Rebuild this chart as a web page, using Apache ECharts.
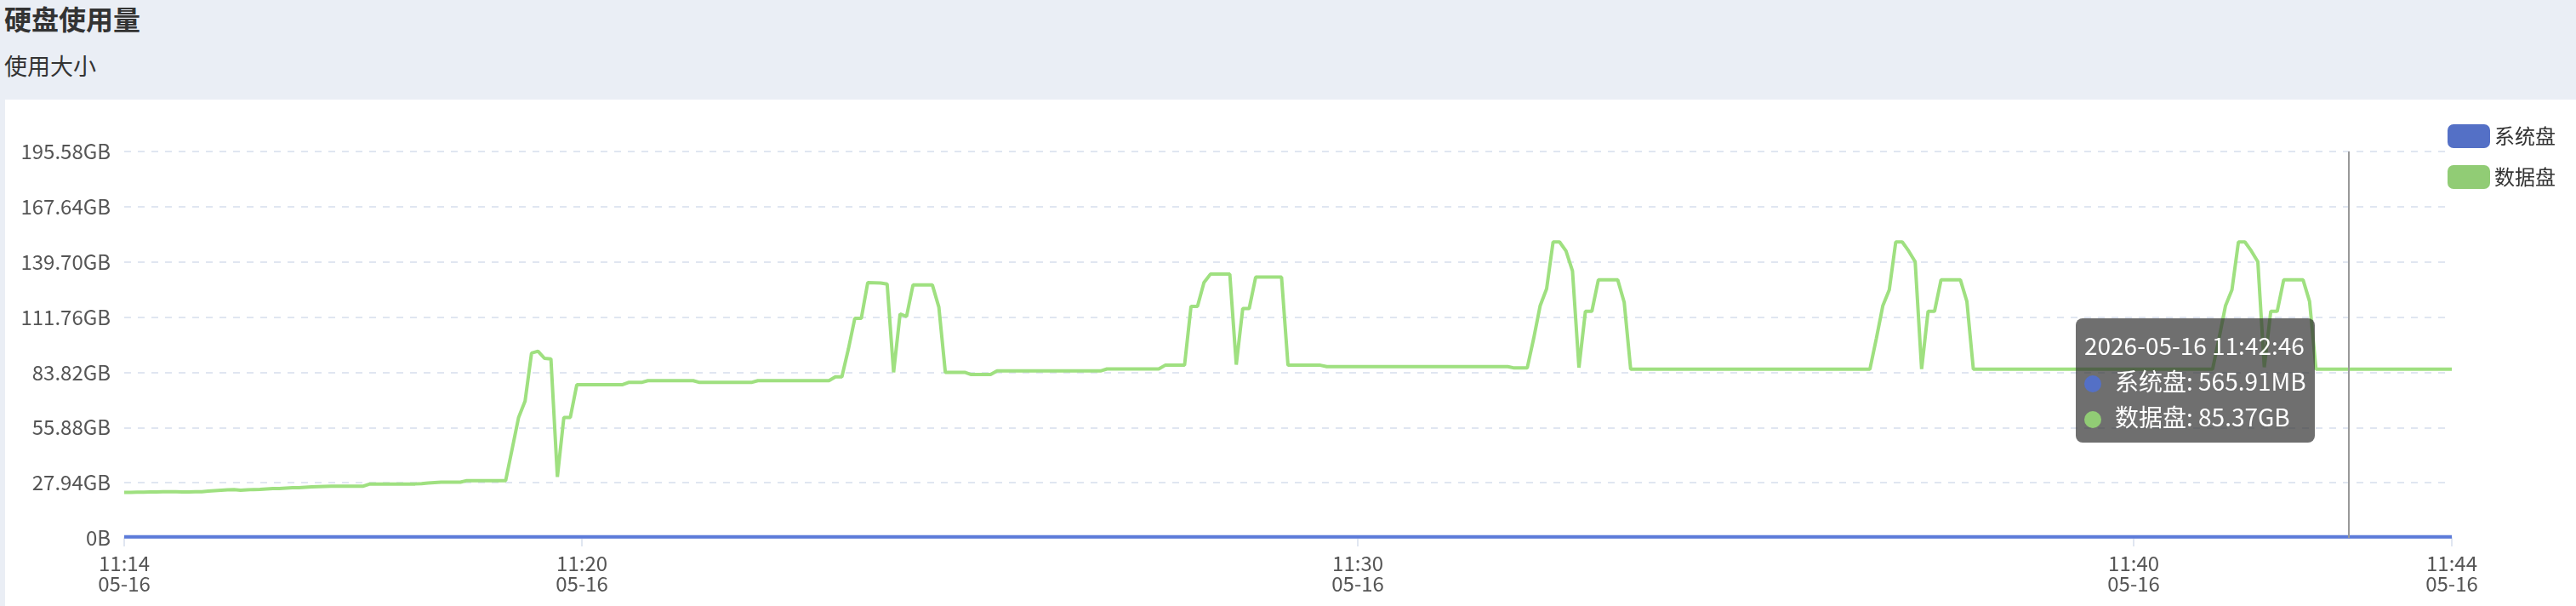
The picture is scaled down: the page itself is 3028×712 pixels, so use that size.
<!DOCTYPE html>
<html><head><meta charset="utf-8">
<script src="https://cdn.jsdelivr.net/npm/echarts@6/dist/echarts.min.js"></script>
<style>
html,body{margin:0;padding:0;width:3028px;height:712px;overflow:hidden;background:#eaeef5;font-family:"Noto Sans CJK SC","Noto Sans",sans-serif;}
#title{position:absolute;left:5px;top:0;height:42px;line-height:42px;font-size:32px;font-weight:bold;color:#333;}
#sub{position:absolute;left:5px;top:56px;height:42px;line-height:42px;font-size:27px;color:#333;}
#panel{position:absolute;left:6px;top:117px;width:3022px;height:595px;background:#fff;}
#chart{width:3022px;height:595px;}
</style></head>
<body>
<div id="title">硬盘使用量</div>
<div id="sub">使用大小</div>
<div id="panel"><div id="chart"></div></div>
<script>
const FONT = '"Noto Sans CJK SC","Noto Sans",sans-serif';
const START_TIME = '2026-05-16 11:14:06';
const STEP_SECONDS = 5;
const seriesNames = ['系统盘', '数据盘'];
const Y_MAX_BYTES = 2.1e11;
const Y_STEP_BYTES = 3e10;
const TOOLTIP_INDEX = 344;

// 系统盘 (MB)
const sysDiskMB = [
565.91,565.91,565.91,565.91,565.91,565.91,565.91,565.91,565.91,565.91,
565.91,565.91,565.91,565.91,565.91,565.91,565.91,565.91,565.91,565.91,
565.91,565.91,565.91,565.91,565.91,565.91,565.91,565.91,565.91,565.91,
565.91,565.91,565.91,565.91,565.91,565.91,565.91,565.91,565.91,565.91,
565.91,565.91,565.91,565.91,565.91,565.91,565.91,565.91,565.91,565.91,
565.91,565.91,565.91,565.91,565.91,565.91,565.91,565.91,565.91,565.91,
565.91,565.91,565.91,565.91,565.91,565.91,565.91,565.91,565.91,565.91,
565.91,565.91,565.91,565.91,565.91,565.91,565.91,565.91,565.91,565.91,
565.91,565.91,565.91,565.91,565.91,565.91,565.91,565.91,565.91,565.91,
565.91,565.91,565.91,565.91,565.91,565.91,565.91,565.91,565.91,565.91,
565.91,565.91,565.91,565.91,565.91,565.91,565.91,565.91,565.91,565.91,
565.91,565.91,565.91,565.91,565.91,565.91,565.91,565.91,565.91,565.91,
565.91,565.91,565.91,565.91,565.91,565.91,565.91,565.91,565.91,565.91,
565.91,565.91,565.91,565.91,565.91,565.91,565.91,565.91,565.91,565.91,
565.91,565.91,565.91,565.91,565.91,565.91,565.91,565.91,565.91,565.91,
565.91,565.91,565.91,565.91,565.91,565.91,565.91,565.91,565.91,565.91,
565.91,565.91,565.91,565.91,565.91,565.91,565.91,565.91,565.91,565.91,
565.91,565.91,565.91,565.91,565.91,565.91,565.91,565.91,565.91,565.91,
565.91,565.91,565.91,565.91,565.91,565.91,565.91,565.91,565.91,565.91,
565.91,565.91,565.91,565.91,565.91,565.91,565.91,565.91,565.91,565.91,
565.91,565.91,565.91,565.91,565.91,565.91,565.91,565.91,565.91,565.91,
565.91,565.91,565.91,565.91,565.91,565.91,565.91,565.91,565.91,565.91,
565.91,565.91,565.91,565.91,565.91,565.91,565.91,565.91,565.91,565.91,
565.91,565.91,565.91,565.91,565.91,565.91,565.91,565.91,565.91,565.91,
565.91,565.91,565.91,565.91,565.91,565.91,565.91,565.91,565.91,565.91,
565.91,565.91,565.91,565.91,565.91,565.91,565.91,565.91,565.91,565.91,
565.91,565.91,565.91,565.91,565.91,565.91,565.91,565.91,565.91,565.91,
565.91,565.91,565.91,565.91,565.91,565.91,565.91,565.91,565.91,565.91,
565.91,565.91,565.91,565.91,565.91,565.91,565.91,565.91,565.91,565.91,
565.91,565.91,565.91,565.91,565.91,565.91,565.91,565.91,565.91,565.91,
565.91,565.91,565.91,565.91,565.91,565.91,565.91,565.91,565.91,565.91,
565.91,565.91,565.91,565.91,565.91,565.91,565.91,565.91,565.91,565.91,
565.91,565.91,565.91,565.91,565.91,565.91,565.91,565.91,565.91,565.91,
565.91,565.91,565.91,565.91,565.91,565.91,565.91,565.91,565.91,565.91,
565.91,565.91,565.91,565.91,565.91,565.91,565.91,565.91,565.91,565.91,
565.91,565.91,565.91,565.91,565.91,565.91,565.91,565.91,565.91,565.91,
565.91
];

// 数据盘 (GB)
const dataDiskGB = [
23.0,23.1,23.2,23.2,23.3,23.3,23.4,23.4,23.4,23.3,
23.3,23.4,23.4,23.7,23.9,24.1,24.3,24.4,24.1,24.3,
24.5,24.6,24.8,25.0,25.0,25.2,25.4,25.4,25.6,25.8,
26.0,26.1,26.2,26.2,26.2,26.2,26.2,26.2,27.3,27.3,
27.3,27.3,27.3,27.3,27.3,27.3,27.5,27.8,28.0,28.2,
28.2,28.2,28.2,29.0,29.0,29.0,29.0,29.0,29.0,29.0,
45.0,61.0,69.2,93.5,94.5,90.9,90.6,30.9,61.0,61.0,
77.5,77.5,77.5,77.5,77.5,77.5,77.5,77.5,78.7,78.7,
78.7,79.6,79.6,79.6,79.6,79.6,79.6,79.6,79.6,78.7,
78.7,78.7,78.7,78.7,78.7,78.7,78.7,78.7,79.6,79.6,
79.6,79.6,79.6,79.6,79.6,79.6,79.6,79.6,79.6,79.6,
81.5,81.5,95.5,111.1,111.1,129.2,129.1,129.0,128.5,83.8,
113.3,112.1,128.0,128.0,128.0,128.0,116.8,83.8,83.8,83.8,
83.8,82.7,82.7,82.7,82.7,84.5,84.5,84.5,84.5,84.5,
84.5,84.5,84.5,84.5,84.5,84.5,84.5,84.5,84.5,84.5,
84.5,84.5,85.5,85.5,85.5,85.5,85.5,85.5,85.5,85.5,
85.5,87.4,87.4,87.4,87.4,117.2,117.2,129.2,133.5,133.5,
133.5,133.5,87.7,116.1,116.1,132.0,132.0,132.0,132.0,132.0,
87.4,87.4,87.4,87.4,87.4,87.4,86.7,86.7,86.7,86.7,
86.7,86.7,86.7,86.7,86.7,86.7,86.7,86.7,86.7,86.7,
86.7,86.7,86.7,86.7,86.7,86.7,86.7,86.7,86.7,86.7,
86.7,86.7,86.7,86.7,86.7,86.0,86.0,86.0,101.0,117.5,
126.1,149.8,149.8,145.2,135.1,86.2,114.7,114.7,130.6,130.6,
130.6,130.6,119.2,85.37,85.37,85.37,85.37,85.37,85.37,85.37,
85.37,85.37,85.37,85.37,85.37,85.37,85.37,85.37,85.37,85.37,
85.37,85.37,85.37,85.37,85.37,85.37,85.37,85.37,85.37,85.37,
85.37,85.37,85.37,85.37,85.37,85.37,85.37,85.37,85.37,85.37,
85.37,101.0,117.5,125.6,149.8,149.8,145.2,139.8,85.5,114.7,
114.7,130.6,130.6,130.6,130.6,119.7,85.37,85.37,85.37,85.37,
85.37,85.37,85.37,85.37,85.37,85.37,85.37,85.37,85.37,85.37,
85.37,85.37,85.37,85.37,85.37,85.37,85.37,85.37,85.37,85.37,
85.37,85.37,85.37,85.37,85.37,85.37,85.37,85.37,85.37,85.37,
85.37,85.37,85.37,85.37,101.0,117.5,125.6,149.8,149.8,145.2,
139.8,86.4,114.7,114.7,130.6,130.6,130.6,130.6,119.7,85.37,
85.37,85.37,85.37,85.37,85.37,85.37,85.37,85.37,85.37,85.37,
85.37,85.37,85.37,85.37,85.37,85.37,85.37,85.37,85.37,85.37,
85.37
];

const KB = 1024, MB = KB * 1024, GB = MB * 1024;

function parseTime(s) {
  const [d, t] = s.split(' ');
  const [Y, M, D] = d.split('-').map(Number);
  const [h, m, sec] = t.split(':').map(Number);
  return new Date(Y, M - 1, D, h, m, sec).getTime();
}
function pad(n) { return (n < 10 ? '0' : '') + n; }
function fmtBytes(b) {
  if (!b) return '0B';
  const units = ['B', 'KB', 'MB', 'GB', 'TB'];
  let i = 0;
  while (b >= 1024 && i < units.length - 1) { b /= 1024; i++; }
  return b.toFixed(2) + units[i];
}
function fmtAxisTime(v) {
  const d = new Date(v);
  return pad(d.getHours()) + ':' + pad(d.getMinutes()) + '\n' + pad(d.getMonth() + 1) + '-' + pad(d.getDate());
}
function fmtFullTime(v) {
  const d = new Date(v);
  return d.getFullYear() + '-' + pad(d.getMonth() + 1) + '-' + pad(d.getDate()) + ' ' +
    pad(d.getHours()) + ':' + pad(d.getMinutes()) + ':' + pad(d.getSeconds());
}

const t0 = parseTime(START_TIME);
const times = dataDiskGB.map((_, i) => t0 + i * STEP_SECONDS * 1000);
const sysData = times.map((t, i) => [t, sysDiskMB[i] * MB]);
const dataData = times.map((t, i) => [t, dataDiskGB[i] * GB]);

const chart = echarts.init(document.getElementById('chart'), null, { renderer: 'canvas' });
chart.setOption({
  animation: false,
  color: ['#5470c6', '#91cc75'],
  textStyle: { fontFamily: FONT },
  legend: {
    orient: 'vertical', right: 24, top: 29, padding: 0, align: 'left',
    icon: 'roundRect', itemWidth: 50, itemHeight: 28, itemGap: 20,
    textStyle: { fontSize: 24, color: '#333', fontFamily: FONT },
    data: seriesNames
  },
  grid: { left: 140, right: 146, top: 61, bottom: 80 },
  tooltip: {
    trigger: 'axis', triggerOn: 'none', alwaysShowContent: true,
    position: [2434, 257],
    backgroundColor: 'rgba(50,50,50,0.7)', borderWidth: 0, borderRadius: 8, padding: 10,
    textStyle: { color: '#fff', fontSize: 28, fontFamily: FONT },
    extraCssText: 'box-shadow:none;',
    transitionDuration: 0,
    axisPointer: { type: 'line', lineStyle: { color: '#999', width: 2, type: 'solid' } },
    formatter: function (params) {
      let html = '<div style="line-height:42px;white-space:nowrap;color:#fff;font-size:28px">' + fmtFullTime(params[0].value[0]) + '</div>';
      params.forEach(function (p) {
        html += '<div style="line-height:42px;white-space:nowrap;color:#fff;font-size:28px">' +
          '<span style="display:inline-block;width:20px;height:20px;border-radius:10px;margin-right:16px;vertical-align:-2px;background:' + p.color + '"></span>' +
          p.seriesName + ': ' + fmtBytes(p.value[1]) + '</div>';
      });
      return html;
    }
  },
  xAxis: {
    type: 'time',
    min: times[0], max: times[times.length - 1],
    splitNumber: 2,
    axisLine: { show: true, lineStyle: { color: '#E0E6F1', width: 2 } },
    axisTick: { show: true, length: 10, lineStyle: { color: '#E0E6F1', width: 2 } },
    axisLabel: { showMinLabel: true, showMaxLabel: true, formatter: fmtAxisTime, fontSize: 24, lineHeight: 24, color: '#555', margin: 18, fontFamily: FONT },
    splitLine: { show: false }
  },
  yAxis: {
    type: 'value', min: 0, max: Y_MAX_BYTES, interval: Y_STEP_BYTES,
    axisLine: { show: false }, axisTick: { show: false },
    axisLabel: { formatter: fmtBytes, fontSize: 24, color: '#555', margin: 16, fontFamily: FONT },
    splitLine: { lineStyle: { color: '#E0E6F1', type: [8, 8], width: 2 } }
  },
  series: [
    { name: seriesNames[0], type: 'line', symbol: 'none', showSymbol: false, lineStyle: { width: 4 }, data: sysData },
    { name: seriesNames[1], type: 'line', symbol: 'none', showSymbol: false, lineStyle: { width: 4 }, data: dataData }
  ]
});
chart.dispatchAction({ type: 'showTip', seriesIndex: 1, dataIndex: TOOLTIP_INDEX });
</script>
</body></html>
